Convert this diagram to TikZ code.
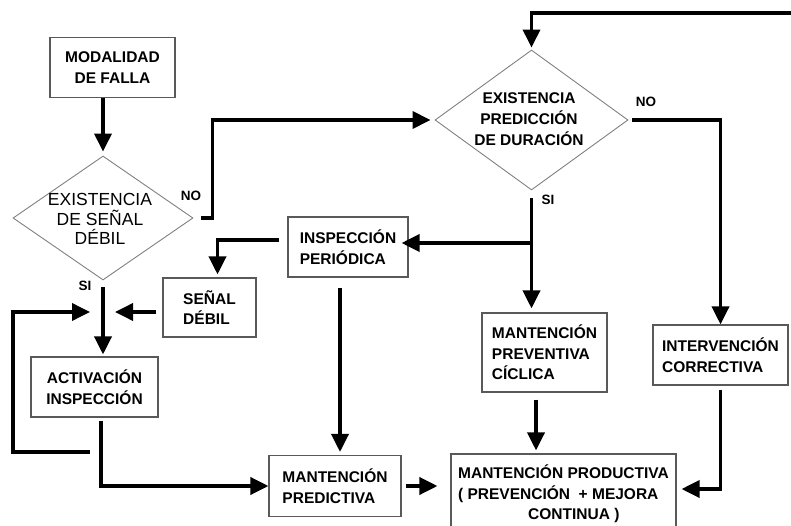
\documentclass[tikz,border=0pt]{standalone}
\usepackage{fontspec}
\setmainfont{Liberation Sans}
\usetikzlibrary{arrows.meta,shapes.geometric}
\begin{document}
\begin{tikzpicture}[x=1pt,y=-1pt,
  box/.style={draw=black!65,line width=1.1pt,inner sep=0pt,
    font=\fontsize{15.5}{20.5}\selectfont\bfseries,align=center},
  boxl/.style={box,align=left},
  decision/.style={diamond,draw=black!50,line width=0.9pt,inner sep=0pt},
  dtext/.style={inner sep=0pt,align=center},
  flow/.style={line width=3.6pt,-{Triangle[length=18pt,width=17pt]}},
  tag/.style={font=\fontsize{13.5}{16}\selectfont\bfseries,inner sep=0pt}]
\useasboundingbox (0,0) rectangle (791,526);

% process boxes
\node[box,minimum width=125pt,minimum height=60pt] (mf) at (112.5,67.5) {MODALIDAD\\DE FALLA};
\node[boxl,minimum width=120pt,minimum height=60pt] (ip) at (348,247) {INSPECCIÓN\\PERIÓDICA};
\node[boxl,minimum width=93pt,minimum height=59pt] (sd) at (209.5,307.5) {SEÑAL\\DÉBIL};
\node[box,minimum width=127pt,minimum height=60pt] (act) at (94.5,387) {ACTIVACIÓN\\INSPECCIÓN};
\node[boxl,minimum width=125pt,minimum height=79pt] (pc) at (544.5,352.5) {MANTENCIÓN\\PREVENTIVA\\CÍCLICA};
\node[boxl,minimum width=135pt,minimum height=60pt] (ic) at (720.5,355) {INTERVENCIÓN\\CORRECTIVA};
\node[boxl,minimum width=132pt,minimum height=61pt] (mp) at (335,486) {MANTENCIÓN\\PREDICTIVA};
\node[boxl,minimum width=225pt,minimum height=80pt] (prod) at (563.5,494)
  {MANTENCIÓN PRODUCTIVA\\( PREVENCIÓN \ + MEJORA\\\hspace*{70pt}CONTINUA )};

% decisions
\node[decision,minimum width=180pt,minimum height=124pt] (d1) at (103,218) {};
\node[dtext,font=\fontsize{17.5}{19.5}\selectfont] (d1t) at (100,219) {EXISTENCIA\\DE SEÑAL\\DÉBIL};
\node[decision,minimum width=193pt,minimum height=140pt] (d2) at (531.5,120) {};
\node[dtext,font=\fontsize{15.5}{21}\selectfont\bfseries] (d2t) at (529,119) {EXISTENCIA\\PREDICCIÓN\\DE DURACIÓN};

% branch labels
\node[tag] (no1) at (191,196) {NO};
\node[tag] (si1) at (85,286) {SI};
\node[tag] (no2) at (646,102) {NO};
\node[tag] (si2) at (548,200) {SI};

% free ends and junctions
\coordinate (topin) at (800,13);
\coordinate (br) at (531.5,243);
\coordinate (j1) at (102,312);
\coordinate (loop) at (90,452);

% connectors
\draw[flow,shorten >=4pt] (d1.north |- mf.south) -- (d1.north);
\draw[flow,shorten <=8pt,shorten >=4pt] (d1.east) -- ++(19,0) |- (d2.west);
\draw[flow] (topin) -| ([yshift=2pt]d2.north);
\draw[flow,shorten <=4pt] (d2.east) -| (ic.north);
\draw[flow,shorten <=8pt] (d2.south) -- ([yshift=4pt]d2.south |- pc.north);
\draw[flow,shorten >=-7pt] (br) -- (br -| ip.east);
\draw[flow] ([shift={(-8pt,7pt)}]ip.west) -| ([xshift=8pt,yshift=3pt]sd.north);
\draw[flow,shorten <=6pt,shorten >=13pt] (sd.west |- j1) -- (j1);
\draw[flow,shorten <=7pt,shorten >=2pt] (d1.south) -- (d1.south |- act.north);
\draw[flow,shorten >=12pt] (loop) -- ++(-77,0) |- (j1);
\draw[flow,shorten <=3pt] ([xshift=6.5pt]act.south) |- (mp.west);
\draw[flow] ([shift={(-8pt,-10pt)}]ip.south) -- ([xshift=5pt,yshift=3pt]mp.north);
\draw[flow,shorten <=4pt,shorten >=13pt] (mp.east) -- (mp.east -| prod.west);
\draw[flow] ([shift={(-8.5pt,-7pt)}]pc.south) -- ([shift={(-27.5pt,3pt)}]prod.north);
\draw[flow,shorten <=4pt,shorten >=5pt] (ic.south) |- ([yshift=5pt]prod.east);
\end{tikzpicture}
\end{document}
